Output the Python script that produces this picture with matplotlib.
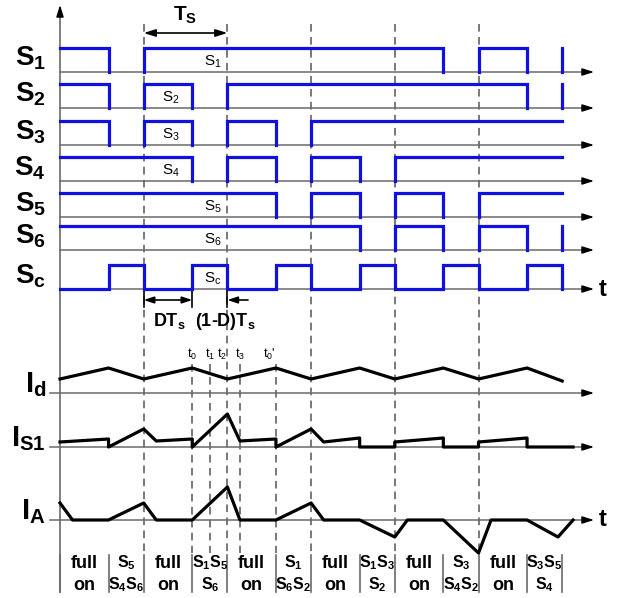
import matplotlib
matplotlib.use("Agg")
import matplotlib.pyplot as plt

plt.rcParams['font.family'] = ['Liberation Sans', 'DejaVu Sans']
plt.rcParams['mathtext.fontset'] = 'custom'
plt.rcParams['mathtext.rm'] = 'Liberation Sans'
plt.rcParams['mathtext.it'] = 'Liberation Sans'
plt.rcParams['mathtext.bf'] = 'Liberation Sans:bold'

# time in units of Ts, D ~ 0.58
T_END = 6
# gate signals: level at t=0, then switching instants
gate_names = ['1', '2', '3', '4', '5', '6', 'c']
gate_start = [1, 1, 1, 1, 1, 1, 0]
gate_edges = [
    [0.58, 1, 4.58, 5, 5.58, 6],
    [0.58, 1, 1.58, 2, 5.58, 6],
    [0.58, 1, 1.58, 2, 2.58, 3],
    [1.58, 2, 2.58, 3, 3.58, 4],
    [2.58, 3, 3.58, 4, 4.58, 5],
    [3.58, 4, 4.58, 5, 5.58, 6],
    [0.58, 1, 1.58, 2, 2.58, 3, 3.58, 4, 4.58, 5, 5.58, 6],
]
gate_inner_t = [1.83, 1.33, 1.33, 1.33, 1.83, 1.83, 1.83]

# currents (height above own axis, px)
id_t = [0, 0.58, 1, 1.58, 2, 2.58, 3, 3.58, 4, 4.58, 5, 5.58, 6]
id_v = [14, 25, 14, 25, 14, 25, 14, 25, 14, 25, 14, 25, 12]

is1_t = [0, 0.58, 0.58, 1, 1.15, 1.58, 1.58, 2, 2.15, 2.58, 2.58, 3, 3.15, 3.58,
         3.58, 4, 4, 4.58, 4.58, 5, 5, 5.58, 5.58, 6.13]
is1_v = [5, 8, 0, 18, 6, 8, 0, 33, 6, 8, 0, 18, 5, 9,
         0, 0, 5, 9, 0, 0, 5, 9, 0, 0]

ia_t = [0, 0.15, 0.58, 1, 1.15, 1.58, 2, 2.15, 2.58, 3, 3.15, 3.58, 4, 4.15,
        4.58, 5, 5.15, 5.58, 5.95, 6.13]
ia_v = [17, 0, 0, 17, 0, 0, 33, 0, 0, 17, 0, 0, -17, 0,
        0, -33, 0, 0, -17, 0]

# operating modes along the bottom
mode_bounds = [0, 0.58, 1, 1.58, 2, 2.58, 3, 3.58, 4, 4.58, 5, 5.58, 6]
mode_top = ['full', 'S$_\\mathbf{5}$', 'full', 'S$_\\mathbf{1}$S$_\\mathbf{5}$', 'full',
            'S$_\\mathbf{1}$', 'full', 'S$_\\mathbf{1}$S$_\\mathbf{3}$', 'full',
            'S$_\\mathbf{3}$', 'full', 'S$_\\mathbf{3}$S$_\\mathbf{5}$']
mode_bot = ['on', 'S$_\\mathbf{4}$S$_\\mathbf{6}$', 'on', 'S$_\\mathbf{6}$', 'on',
            'S$_\\mathbf{6}$S$_\\mathbf{2}$', 'on', 'S$_\\mathbf{2}$', 'on',
            'S$_\\mathbf{4}$S$_\\mathbf{2}$', 'on', 'S$_\\mathbf{4}$']

sub_t = [1.58, 1.79, 2, 2.15, 2.58]
sub_lbl = ['t$_0$', 't$_1$', 't$_2$', 't$_3$', "t$_0$'"]

# layout (pixels)
X0, TPX = 60, 83.7
def px(x):
    return (x - X0) / TPX

gate_base = [72, 108, 145, 181, 217, 250, 289]
AMP = 24
BLUE = '#1010e0'
GRAY = '#6a6a6a'

fig = plt.figure(figsize=(6.18, 5.98), dpi=100)
ax = fig.add_axes([0, 0, 1, 1])
ax.set_xlim(px(0), px(618))
ax.set_ylim(598, 0)
ax.axis('off')


def h_axis(y, x_start):
    ax.plot([x_start, px(588)], [y, y], color=GRAY, lw=1.1, zorder=1)
    ax.annotate('', xy=(px(594), y), xytext=(px(584), y),
                arrowprops=dict(arrowstyle='-|>,head_length=0.7,head_width=0.22',
                                color='black', lw=1, shrinkA=0, shrinkB=0))


# vertical axis
ax.plot([0, 0], [592, 14], color=GRAY, lw=1.2, zorder=1)
ax.annotate('', xy=(0, 5), xytext=(0, 16),
            arrowprops=dict(arrowstyle='-|>,head_length=0.7,head_width=0.22',
                            color='black', lw=1, shrinkA=0, shrinkB=0))

# dashed period lines
for k in range(1, 6):
    ax.plot([k, k], [24, 553], color='#555555', lw=1.1, ls=(0, (5, 3.5)), zorder=1)
for t in sub_t:
    if t != 2:
        ax.plot([t, t], [364, 553], color='#555555', lw=1.1, ls=(0, (5, 3.5)), zorder=1)

# gate signals
for name, start, edges, base, tin in zip(gate_names, gate_start, gate_edges, gate_base, gate_inner_t):
    h_axis(base, 0)
    if name == 'c':
        # clamp signal drawn with its low level too
        ts, ls = [0], [start]
        lvl = start
        for e in edges:
            ts += [e, e]
            ls += [lvl, 1 - lvl]
            lvl = 1 - lvl
        ax.plot(ts, [base - AMP * l for l in ls], color=BLUE, lw=2.3, zorder=3,
                solid_joinstyle='miter')
    else:
        # only the on-pulses are drawn
        sw = [0] + edges
        if len(sw) % 2:
            sw.append(T_END)
        for on, off in zip(sw[0::2], sw[1::2]):
            xs = [on, on, off, off]
            ys = [base, base - AMP, base - AMP, base]
            if on == 0:
                xs, ys = xs[1:], ys[1:]
            if off == T_END and off not in edges:
                xs, ys = xs[:-1], ys[:-1]
            if on == off:
                xs, ys = [on, on], [base, base - AMP]
            ax.plot(xs, ys, color=BLUE, lw=2.3, zorder=3, solid_joinstyle='miter')
    ax.text(px(46), base - 6, 'S$_\\mathbf{%s}$' % name, fontsize=20, fontweight='bold',
            ha='right', va='baseline')
    ax.text(tin, base - 10, 'S$_{%s}$' % name, fontsize=11, ha='center', va='center')

ax.text(px(603), 289, 't', fontsize=17, fontweight='bold', ha='center', va='center')

# Ts arrow
ax.annotate('', xy=(2, 33), xytext=(1, 33),
            arrowprops=dict(arrowstyle='<|-|>,head_length=0.7,head_width=0.22',
                            color='black', lw=1.2, shrinkA=0, shrinkB=0))
ax.text(1.5, 15, 'T$_\\mathbf{S}$', fontsize=15, fontweight='bold', ha='center', va='center')

# DTs / (1-D)Ts arrows
for t in [1, 1.58]:
    ax.plot([t, t], [290, 307], color='black', lw=1.2)
ax.plot([2, 2], [289, 307], color='black', lw=1.2)
ax.annotate('', xy=(1.58, 300), xytext=(1, 300),
            arrowprops=dict(arrowstyle='<|-|>,head_length=0.6,head_width=0.2',
                            color='black', lw=1.2, shrinkA=0, shrinkB=0))
ax.annotate('', xy=(2, 300), xytext=(px(248), 300),
            arrowprops=dict(arrowstyle='-|>,head_length=0.6,head_width=0.2',
                            color='black', lw=1.2, shrinkA=0, shrinkB=0))
ax.text(px(169), 321, 'DT$_\\mathbf{s}$', fontsize=13, fontweight='bold', ha='center', va='center')
ax.text(px(225), 321, '(1-D)T$_\\mathbf{s}$', fontsize=13, fontweight='bold', ha='center', va='center')

# currents
cur_base = [393, 447, 520]
cur_lbl = ['I$_\\mathbf{d}$', 'I$_\\mathbf{S1}$', 'I$_\\mathbf{A}$']
cur_data = [(id_t, id_v), (is1_t, is1_v), (ia_t, ia_v)]
for base, lbl, (ts, vs) in zip(cur_base, cur_lbl, cur_data):
    h_axis(base, px(50))
    ax.plot(ts, [base - v for v in vs], color='black', lw=2.3, zorder=3)
    ax.text(px(46), base - 1, lbl, fontsize=21, fontweight='bold', ha='right', va='baseline')
ax.text(px(603), 520, 't', fontsize=17, fontweight='bold', ha='center', va='center')

for t, lbl in zip(sub_t, sub_lbl):
    dx = -0.06 if t == 2 else (-0.08 if t == 2.58 else 0)
    ax.text(t + dx, 354, lbl, fontsize=9, ha='center', va='center')

# mode table
for b in mode_bounds:
    ax.plot([b, b], [555, 592], color=GRAY, lw=1.2, zorder=1)
for a, b, top, bot in zip(mode_bounds[:-1], mode_bounds[1:], mode_top, mode_bot):
    c = (a + b) / 2
    fs = 13 if top == 'full' else 11.5
    ax.text(c, 563, top, fontsize=fs, fontweight='bold', ha='center', va='center')
    ax.text(c, 585, bot, fontsize=fs, fontweight='bold', ha='center', va='center')

fig.savefig('out.png', dpi=100)
